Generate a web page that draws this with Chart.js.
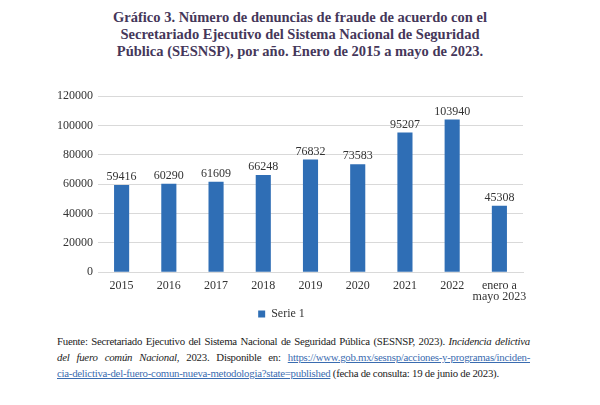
<!DOCTYPE html>
<html>
<head>
<meta charset="utf-8">
<script src="https://cdn.jsdelivr.net/npm/chart.js@4"></script>
<style>
  body { margin: 0; width: 600px; height: 405px; background: #fff; position: relative; font-family: "Liberation Serif", serif; }
  #title { position: absolute; top: 9px; left: 0; width: 600px; text-align: center; font-weight: bold; font-size: 14.5px; line-height: 17px; color: #45375a; }
  #wrap { position: absolute; left: 40px; top: 80px; width: 500px; height: 250px; }
  #note { position: absolute; left: 57px; top: 333px; width: 473px; font-size: 10.8px; letter-spacing: -0.25px; line-height: 16px; color: #222; }
  #note div { white-space: nowrap; }
  #note .j { text-align: justify; text-align-last: justify; }
  #note a { color: #3a6cb0; text-decoration: underline; }
</style>
</head>
<body>
<div id="title">Gráfico 3. Número de denuncias de fraude de acuerdo con el<br>Secretariado Ejecutivo del Sistema Nacional de Seguridad<br>Pública (SESNSP), por año. Enero de 2015 a mayo de 2023.</div>
<div id="wrap"><canvas id="chart"></canvas></div>
<div id="note">
  <div class="j">Fuente: Secretariado Ejecutivo del Sistema Nacional de Seguridad Pública (SESNSP, 2023). <i>Incidencia delictiva</i></div>
  <div class="j"><i>del fuero común Nacional</i>, 2023. Disponible en: <a>https://www.gob.mx/sesnsp/acciones-y-programas/inciden-</a></div>
  <div><a>cia-delictiva-del-fuero-comun-nueva-metodologia?state=published</a> (fecha de consulta: 19 de junio de 2023).</div>
</div>
<script>
const categories = ['2015', '2016', '2017', '2018', '2019', '2020', '2021', '2022', ['enero a', 'mayo 2023']];
const serie1 = [59416, 60290, 61609, 66248, 76832, 73583, 95207, 103940, 45308];
const yTicks = [0, 20000, 40000, 60000, 80000, 100000, 120000];

const barColor = '#2f6eb5';

// value labels above each bar
const valueLabels = {
  id: 'valueLabels',
  afterDatasetsDraw(chart) {
    const ctx = chart.ctx;
    const meta = chart.getDatasetMeta(0);
    ctx.save();
    ctx.font = '12px "Liberation Serif"';
    ctx.fillStyle = '#333';
    ctx.textAlign = 'center';
    ctx.textBaseline = 'bottom';
    meta.data.forEach((bar, i) => {
      ctx.fillText(String(serie1[i]), bar.x, bar.y - 2);
    });
    ctx.restore();
  }
};

new Chart(document.getElementById('chart'), {
  type: 'bar',
  data: {
    labels: categories,
    datasets: [{
      label: 'Serie 1',
      data: serie1,
      backgroundColor: barColor,
      borderWidth: 0,
      categoryPercentage: 1,
      barPercentage: 0.32
    }]
  },
  options: {
    responsive: true,
    maintainAspectRatio: false,
    animation: false,
    layout: { padding: { top: 16, right: 17, left: 0, bottom: 0 } },
    scales: {
      y: {
        min: 0,
        max: 120000,
        afterBuildTicks: axis => { axis.ticks = yTicks.map(v => ({ value: v })); },
        afterFit: axis => { axis.width = 58; },
        border: { display: false },
        grid: { color: '#d9d9d9', lineWidth: 1, drawTicks: false },
        ticks: {
          padding: 5,
          color: '#333',
          callback: v => String(v),
          font: { family: 'Liberation Serif', size: 12 }
        }
      },
      x: {
        border: { color: '#d9d9d9' },
        grid: { display: false },
        ticks: {
          padding: 0,
          color: '#333',
          maxRotation: 0,
          autoSkip: false,
          font: { family: 'Liberation Serif', size: 12, lineHeight: 0.95 }
        }
      }
    },
    plugins: {
      legend: {
        position: 'bottom',
        labels: {
          boxWidth: 7,
          boxHeight: 7,
          padding: 5,
          color: '#333',
          font: { family: 'Liberation Serif', size: 12 }
        }
      },
      tooltip: { enabled: false }
    }
  },
  plugins: [valueLabels]
});
</script>
</body>
</html>
